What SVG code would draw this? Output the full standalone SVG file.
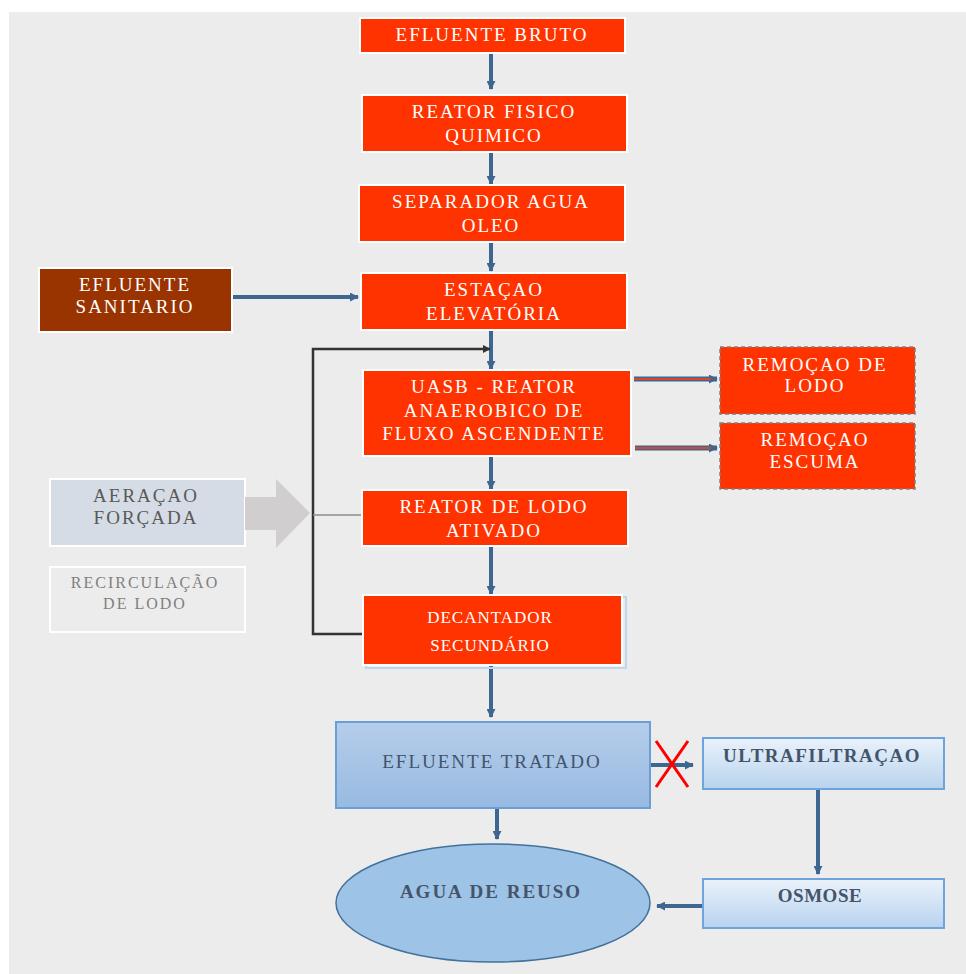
<svg xmlns="http://www.w3.org/2000/svg" width="966" height="974" viewBox="0 0 966 974">
<defs>
<marker id="ab" viewBox="0 0 10 10" refX="9" refY="5" markerWidth="9" markerHeight="9" markerUnits="userSpaceOnUse" orient="auto">
<path d="M0,0 L10,5 L0,10 z" fill="#3d6791"/>
</marker>
<marker id="ak" viewBox="0 0 10 10" refX="9" refY="5" markerWidth="8" markerHeight="8" markerUnits="userSpaceOnUse" orient="auto">
<path d="M0,0 L10,5 L0,10 z" fill="#333"/>
</marker>
<linearGradient id="gT" x1="0" y1="0" x2="0" y2="1">
<stop offset="0" stop-color="#b5cdea"/>
<stop offset="1" stop-color="#98bae2"/>
</linearGradient>
<linearGradient id="gU" x1="0" y1="0" x2="0" y2="1">
<stop offset="0" stop-color="#eaf2fb"/>
<stop offset="1" stop-color="#b8d3ee"/>
</linearGradient>
</defs>
<style>
.o{fill:#ff3300;stroke:#ffffff;stroke-width:2}
.w{fill:#ffffff;font-family:"Liberation Serif","DejaVu Serif",serif;font-size:19px;text-anchor:middle;dominant-baseline:central;letter-spacing:2px}
.d{fill:#44546a;font-family:"Liberation Serif","DejaVu Serif",serif;font-size:19px;font-weight:bold;text-anchor:middle;dominant-baseline:central;letter-spacing:2px}
.c{fill:none;stroke:#3d6791;stroke-width:4}
</style>
<rect x="0" y="0" width="966" height="974" fill="#ffffff"/>
<rect x="9" y="12" width="957" height="962" fill="#ececec"/>

<g id="connectors">
<line class="c" x1="491" y1="54" x2="491" y2="89" marker-end="url(#ab)"/>
<line class="c" x1="491" y1="153" x2="491" y2="184" marker-end="url(#ab)"/>
<line class="c" x1="491" y1="243" x2="491" y2="271" marker-end="url(#ab)"/>
<line class="c" x1="232" y1="297" x2="358" y2="297" marker-end="url(#ab)"/>
<line class="c" x1="491" y1="331" x2="491" y2="369" marker-end="url(#ab)"/>
<line class="c" x1="491" y1="457" x2="491" y2="489" marker-end="url(#ab)"/>
<line class="c" x1="491" y1="547" x2="491" y2="594" marker-end="url(#ab)"/>
<line class="c" x1="491" y1="666" x2="491" y2="717" marker-end="url(#ab)"/>
<line class="c" x1="497" y1="809" x2="497" y2="839" marker-end="url(#ab)"/>
<line class="c" x1="818" y1="790" x2="818" y2="874" marker-end="url(#ab)"/>
<line class="c" x1="703" y1="906" x2="657" y2="906" marker-end="url(#ab)"/>
<line class="c" x1="650" y1="765" x2="693" y2="765" marker-end="url(#ab)"/>
<line x1="634" y1="379" x2="717" y2="379" stroke="#3d6791" stroke-width="5" marker-end="url(#ab)"/>
<line x1="634" y1="379" x2="711" y2="379" stroke="#d9472b" stroke-width="2"/>
<line x1="635" y1="448" x2="717" y2="448" stroke="#3d6791" stroke-width="5" marker-end="url(#ab)"/>
<line x1="635" y1="448" x2="711" y2="448" stroke="#d9472b" stroke-width="2"/>
<polyline points="363,634 313,634 313,349 490,349" fill="none" stroke="#333333" stroke-width="2.5" marker-end="url(#ak)"/>
<line x1="313" y1="515" x2="362" y2="515" stroke="#8c8c8c" stroke-width="1.5"/>
<path d="M656,741 L688,787 M688,741 L656,787" stroke="#ff0000" stroke-width="3" fill="none"/>
</g>

<g id="efluente-bruto">
<rect class="o" x="360" y="18" width="265" height="35"/>
<text class="w" x="492" y="34">EFLUENTE BRUTO</text>
</g>
<g id="reator-fisico-quimico">
<rect class="o" x="362" y="95" width="265" height="57"/>
<text class="w" x="494" y="111">REATOR FISICO</text>
<text class="w" x="494" y="135">QUIMICO</text>
</g>
<g id="separador-agua-oleo">
<rect class="o" x="359" y="185" width="266" height="57"/>
<text class="w" x="491" y="201">SEPARADOR AGUA</text>
<text class="w" x="491" y="225">OLEO</text>
</g>
<g id="efluente-sanitario">
<rect x="39" y="268" width="193" height="64" fill="#993300" stroke="#ffffff" stroke-width="2"/>
<text class="w" x="135" y="284">EFLUENTE</text>
<text class="w" x="135" y="306">SANITARIO</text>
</g>
<g id="estacao-elevatoria">
<rect class="o" x="361" y="273" width="266" height="57"/>
<text class="w" x="494" y="289">ESTAÇAO</text>
<text class="w" x="494" y="313">ELEVATÓRIA</text>
</g>
<g id="uasb">
<rect class="o" x="363" y="370" width="268" height="86"/>
<text class="w" x="494" y="386">UASB - REATOR</text>
<text class="w" x="494" y="410">ANAEROBICO DE</text>
<text class="w" x="494" y="433">FLUXO ASCENDENTE</text>
</g>
<g id="remocao-lodo">
<rect x="720" y="347" width="195" height="67" fill="#ff3300" stroke="#7f7f7f" stroke-width="1.5" stroke-dasharray="4,3"/>
<text class="w" x="815" y="364">REMOÇAO DE</text>
<text class="w" x="815" y="385">LODO</text>
</g>
<g id="remocao-escuma">
<rect x="720" y="423" width="195" height="66" fill="#ff3300" stroke="#7f7f7f" stroke-width="1.5" stroke-dasharray="4,3"/>
<text class="w" x="815" y="439">REMOÇAO</text>
<text class="w" x="815" y="461">ESCUMA</text>
</g>
<g id="aeracao-forcada">
<rect x="50" y="479" width="195" height="67" fill="#d6dce5" stroke="#ffffff" stroke-width="2"/>
<text class="w" x="146" y="495" style="fill:#595959">AERAÇAO</text>
<text class="w" x="146" y="517" style="fill:#595959">FORÇADA</text>
<path d="M245,497 L276,497 L276,479 L310,513 L276,548 L276,530 L245,530 Z" fill="#d0cece"/>
</g>
<g id="recirculacao-lodo">
<rect x="50" y="567" width="195" height="65" fill="#ececec" stroke="#ffffff" stroke-width="2"/>
<text class="w" x="145" y="582" style="fill:#7f7f7f;font-size:16px">RECIRCULAÇÃO</text>
<text class="w" x="145" y="603" style="fill:#7f7f7f;font-size:16px">DE LODO</text>
</g>
<g id="reator-lodo-ativado">
<rect class="o" x="362" y="490" width="266" height="56"/>
<text class="w" x="494" y="506">REATOR DE LODO</text>
<text class="w" x="494" y="530">ATIVADO</text>
</g>
<g id="decantador-secundario">
<rect x="366" y="597" width="260" height="71" fill="none" stroke="#bdd7ee" stroke-width="2"/>
<rect class="o" x="363" y="595" width="259" height="70"/>
<text class="w" x="490" y="617" style="font-size:17px;letter-spacing:1px">DECANTADOR</text>
<text class="w" x="490" y="645" style="font-size:17px;letter-spacing:1px">SECUNDÁRIO</text>
</g>
<g id="efluente-tratado">
<rect x="336" y="722" width="314" height="86" fill="url(#gT)" stroke="#6a9fd5" stroke-width="2"/>
<text class="d" x="492" y="761" style="font-weight:normal">EFLUENTE TRATADO</text>
</g>
<g id="ultrafiltracao">
<rect x="703" y="738" width="241" height="51" fill="url(#gU)" stroke="#6fa3dc" stroke-width="2"/>
<text class="d" x="822" y="755" style="letter-spacing:1.5px">ULTRAFILTRAÇAO</text>
</g>
<g id="osmose">
<rect x="703" y="879" width="241" height="49" fill="url(#gU)" stroke="#6fa3dc" stroke-width="2"/>
<text class="d" x="820" y="895" style="letter-spacing:0.5px">OSMOSE</text>
</g>
<g id="agua-de-reuso">
<ellipse cx="493" cy="903" rx="157" ry="59" fill="#9dc3e6" stroke="#41719c" stroke-width="1.5"/>
<text class="d" x="491" y="891">AGUA DE REUSO</text>
</g>
</svg>
